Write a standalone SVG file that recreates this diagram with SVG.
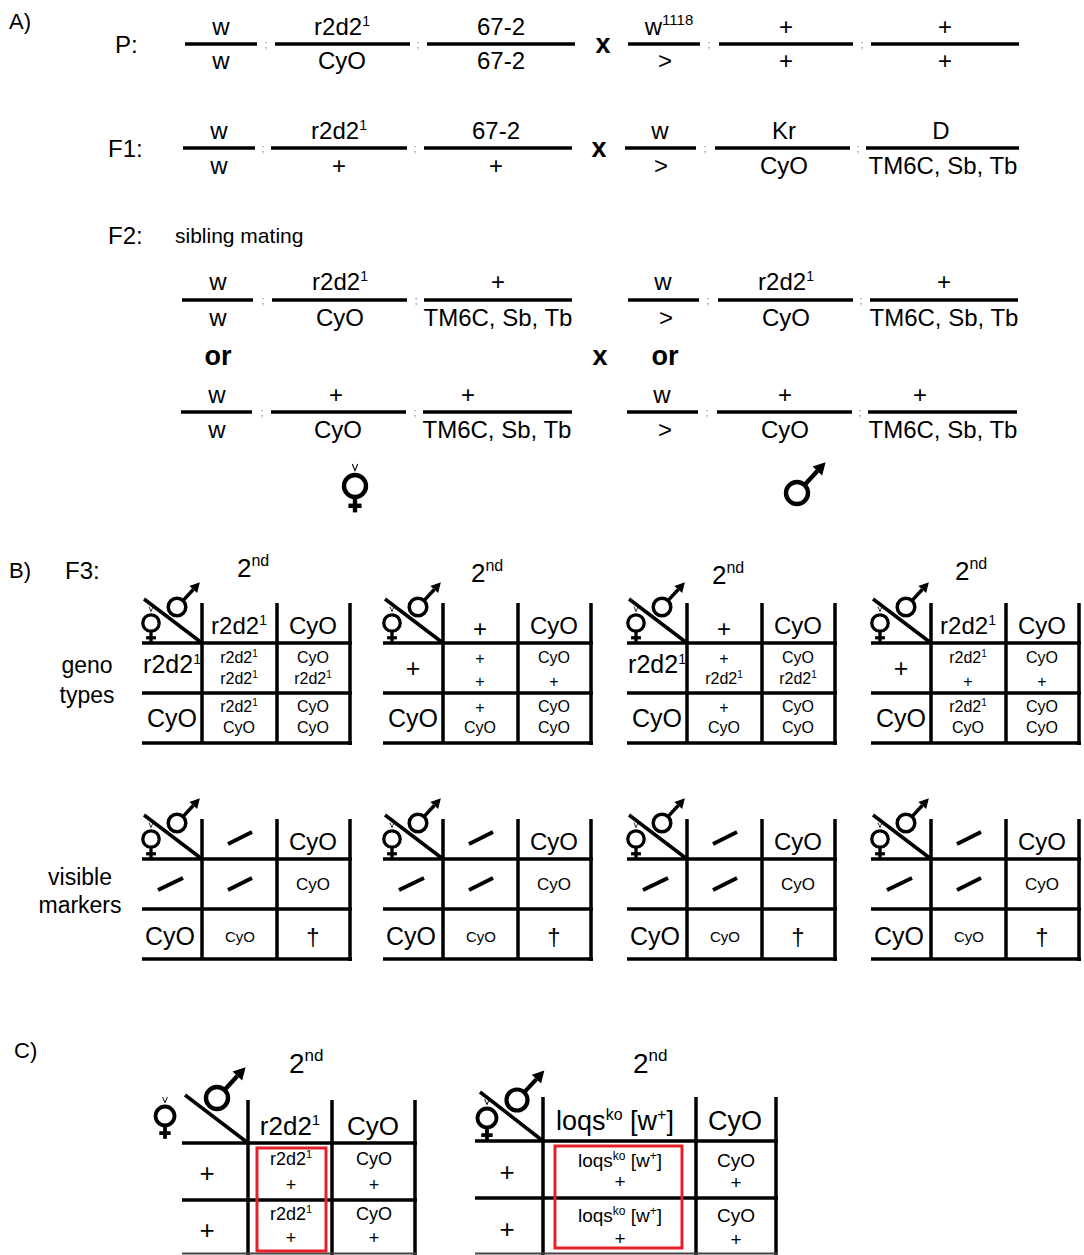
<svg xmlns="http://www.w3.org/2000/svg" width="1084" height="1255" viewBox="0 0 1084 1255">
<style>
text{font-family:"Liberation Sans",Arial,sans-serif;fill:#000}
.g{font-size:24px;text-anchor:middle}
.lbl{font-size:24px}
.sec{font-size:22px}
.sm{font-size:21px}
.b{font-weight:bold;font-size:27px;text-anchor:middle}
.sc{font-size:11px;fill:#888;text-anchor:middle}
.bar{stroke:#000;stroke-width:3.5}
.tl{stroke:#000;stroke-width:3.5}
.hd{font-size:24px;text-anchor:middle}
.rl{font-size:25px;text-anchor:middle}
.ce{font-size:16px;text-anchor:middle}
.side{font-size:23px;text-anchor:middle}
.dash{stroke:#000;stroke-width:4}
.red{fill:none;stroke:#e3202a;stroke-width:3}
</style>
<defs>
<g id="male">
<circle r="10" fill="none" stroke="#000" stroke-width="4"/>
<line x1="6.8" y1="-7.3" x2="18.5" y2="-19.9" stroke="#000" stroke-width="4"/>
<polygon points="26,-28 22.9,-15.8 14.1,-24" fill="#000" stroke="none"/>
</g>
<g id="female">
<circle r="10" fill="none" stroke="#000" stroke-width="4"/>
<line x1="0" y1="11" x2="0" y2="24" stroke="#000" stroke-width="4"/>
<line x1="-6" y1="18" x2="6" y2="18" stroke="#000" stroke-width="4"/>
<path d="M-2.5,-20 L0,-14 L2.5,-20" fill="none" stroke="#000" stroke-width="1"/>
</g>
<g id="tgrid">
<line class="tl" x1="60" y1="0" x2="60" y2="141"/>
<line class="tl" x1="135" y1="0" x2="135" y2="141"/>
<line class="tl" x1="208" y1="0" x2="208" y2="142"/>
<line class="tl" x1="0" y1="40" x2="210" y2="40"/>
<line class="tl" x1="0" y1="90" x2="210" y2="90"/>
<line class="tl" x1="0" y1="140" x2="210" y2="140"/>
<line class="tl" x1="2" y1="-4" x2="60" y2="40"/>
<use href="#male" transform="translate(35,4) scale(.88)"/>
<use href="#female" transform="translate(9,20) scale(.82)"/>
</g>
<g id="vmark">
<use href="#tgrid"/>
<line class="dash" x1="86" y1="25" x2="110" y2="13"/>
<text class="hd" x="171" y="31">CyO</text>
<line class="dash" x1="16" y1="71" x2="41" y2="59"/>
<line class="dash" x1="86" y1="71" x2="110" y2="59"/>
<text x="171" y="71" style="font-size:17px;text-anchor:middle">CyO</text>
<text class="rl" x="28" y="126">CyO</text>
<text x="98" y="123" style="font-size:15px;text-anchor:middle">CyO</text>
<text class="hd" x="171" y="126">†</text>
</g>
</defs>
<rect width="1084" height="1255" fill="#fff"/>

<!-- Section A -->
<g id="sectionA">
<text class="sec" x="9" y="29">A)</text>

<g id="row-P">
<text class="lbl" x="115" y="53">P:</text>
<line class="bar" x1="185" y1="44" x2="257" y2="44"/>
<line class="bar" x1="275" y1="44" x2="410" y2="44"/>
<line class="bar" x1="427" y1="44" x2="575" y2="44"/>
<line class="bar" x1="628" y1="44" x2="700" y2="44"/>
<line class="bar" x1="719" y1="44" x2="853" y2="44"/>
<line class="bar" x1="871" y1="44" x2="1019" y2="44"/>
<text class="sc" x="266" y="48">;</text><text class="sc" x="418" y="48">;</text>
<text class="sc" x="709" y="48">;</text><text class="sc" x="862" y="48">;</text>
<text class="g" x="221" y="35">w</text><text class="g" x="221" y="69">w</text>
<text class="g" x="342" y="35">r2d2<tspan dy="-9" font-size="14">1</tspan></text><text class="g" x="342" y="69">CyO</text>
<text class="g" x="501" y="35">67-2</text><text class="g" x="501" y="69">67-2</text>
<text class="b" x="603" y="53">x</text>
<text class="g" x="669" y="35">w<tspan dy="-10" font-size="15">1118</tspan></text><text class="g" x="665" y="69">&gt;</text>
<text class="g" x="786" y="35">+</text><text class="g" x="786" y="69">+</text>
<text class="g" x="945" y="35">+</text><text class="g" x="945" y="69">+</text>
</g>

<g id="row-F1">
<text class="lbl" x="108" y="157">F1:</text>
<line class="bar" x1="183" y1="148" x2="255" y2="148"/>
<line class="bar" x1="271" y1="148" x2="407" y2="148"/>
<line class="bar" x1="424" y1="148" x2="572" y2="148"/>
<line class="bar" x1="625" y1="148" x2="696" y2="148"/>
<line class="bar" x1="715" y1="148" x2="850" y2="148"/>
<line class="bar" x1="866" y1="148" x2="1019" y2="148"/>
<text class="sc" x="263" y="152">;</text><text class="sc" x="415" y="152">;</text>
<text class="sc" x="705" y="152">;</text><text class="sc" x="858" y="152">;</text>
<text class="g" x="219" y="139">w</text><text class="g" x="219" y="174">w</text>
<text class="g" x="339" y="139">r2d2<tspan dy="-9" font-size="14">1</tspan></text><text class="g" x="339" y="174">+</text>
<text class="g" x="496" y="139">67-2</text><text class="g" x="496" y="174">+</text>
<text class="b" x="599" y="157">x</text>
<text class="g" x="660" y="139">w</text><text class="g" x="661" y="174">&gt;</text>
<text class="g" x="784" y="139">Kr</text><text class="g" x="784" y="174">CyO</text>
<text class="g" x="941" y="139">D</text><text class="g" x="943" y="174">TM6C, Sb, Tb</text>
</g>

<g id="row-F2">
<text class="lbl" x="108" y="244">F2:</text>
<text class="sm" x="175" y="243">sibling mating</text>
<line class="bar" x1="182" y1="300" x2="253" y2="300"/>
<line class="bar" x1="272" y1="300" x2="407" y2="300"/>
<line class="bar" x1="424" y1="300" x2="572" y2="300"/>
<text class="sc" x="263" y="304">;</text><text class="sc" x="416" y="304">;</text>
<text class="g" x="218" y="290">w</text><text class="g" x="218" y="326">w</text>
<text class="g" x="340" y="290">r2d2<tspan dy="-9" font-size="14">1</tspan></text><text class="g" x="340" y="326">CyO</text>
<text class="g" x="498" y="290">+</text><text class="g" x="498" y="326">TM6C, Sb, Tb</text>
<text class="b" x="218" y="365">or</text>
<line class="bar" x1="181" y1="412" x2="252" y2="412"/>
<line class="bar" x1="271" y1="412" x2="406" y2="412"/>
<line class="bar" x1="423" y1="412" x2="572" y2="412"/>
<text class="sc" x="262" y="416">;</text><text class="sc" x="415" y="416">;</text>
<text class="g" x="217" y="403">w</text><text class="g" x="217" y="438">w</text>
<text class="g" x="336" y="403">+</text><text class="g" x="338" y="438">CyO</text>
<text class="g" x="468" y="403">+</text><text class="g" x="497" y="438">TM6C, Sb, Tb</text>
<use href="#female" transform="translate(355,486) scale(1.1)"/>

<text class="b" x="600" y="365">x</text>

<line class="bar" x1="628" y1="300" x2="699" y2="300"/>
<line class="bar" x1="718" y1="300" x2="853" y2="300"/>
<line class="bar" x1="870" y1="300" x2="1018" y2="300"/>
<text class="sc" x="708" y="304">;</text><text class="sc" x="861" y="304">;</text>
<text class="g" x="663" y="290">w</text><text class="g" x="666" y="326">&gt;</text>
<text class="g" x="786" y="290">r2d2<tspan dy="-9" font-size="14">1</tspan></text><text class="g" x="786" y="326">CyO</text>
<text class="g" x="944" y="290">+</text><text class="g" x="944" y="326">TM6C, Sb, Tb</text>
<text class="b" x="665" y="365">or</text>
<line class="bar" x1="627" y1="412" x2="698" y2="412"/>
<line class="bar" x1="717" y1="412" x2="852" y2="412"/>
<line class="bar" x1="868" y1="412" x2="1017" y2="412"/>
<text class="sc" x="707" y="416">;</text><text class="sc" x="860" y="416">;</text>
<text class="g" x="662" y="403">w</text><text class="g" x="665" y="438">&gt;</text>
<text class="g" x="785" y="403">+</text><text class="g" x="785" y="438">CyO</text>
<text class="g" x="920" y="403">+</text><text class="g" x="943" y="438">TM6C, Sb, Tb</text>
<use href="#male" transform="translate(797,493) scale(1.1)"/>
</g>
</g>

<!-- Section B -->
<g id="sectionB">
<text class="sec" x="9" y="578">B)</text>
<text class="lbl" x="65" y="579">F3:</text>
<text class="side" x="87" y="673">geno</text>
<text class="side" x="87" y="703">types</text>
<text class="side" x="80" y="885">visible</text>
<text class="side" x="80" y="913">markers</text>

<g id="geno-1" transform="translate(142,603)">
<text x="95" y="-26" style="font-size:26px">2<tspan dy="-11" font-size="16">nd</tspan></text>
<use href="#tgrid"/>
<text class="hd" x="97" y="31">r2d2<tspan dy="-9" font-size="14">1</tspan></text><text class="hd" x="171" y="31">CyO</text>
<text class="rl" x="30" y="70">r2d2<tspan dy="-9" font-size="14">1</tspan></text><text class="rl" x="30" y="124">CyO</text>
<text class="ce" x="97" y="60">r2d2<tspan dy="-6" font-size="10">1</tspan></text><text class="ce" x="97" y="81">r2d2<tspan dy="-6" font-size="10">1</tspan></text>
<text class="ce" x="171" y="60">CyO</text><text class="ce" x="171" y="81">r2d2<tspan dy="-6" font-size="10">1</tspan></text>
<text class="ce" x="97" y="109">r2d2<tspan dy="-6" font-size="10">1</tspan></text><text class="ce" x="97" y="130">CyO</text>
<text class="ce" x="171" y="109">CyO</text><text class="ce" x="171" y="130">CyO</text>
</g>

<g id="geno-2" transform="translate(383,603)">
<text x="88" y="-21" style="font-size:26px">2<tspan dy="-11" font-size="16">nd</tspan></text>
<use href="#tgrid"/>
<text class="hd" x="97" y="34">+</text><text class="hd" x="171" y="31">CyO</text>
<text class="rl" x="30" y="74">+</text><text class="rl" x="30" y="124">CyO</text>
<text class="ce" x="97" y="61">+</text><text class="ce" x="97" y="84">+</text>
<text class="ce" x="171" y="60">CyO</text><text class="ce" x="171" y="84">+</text>
<text class="ce" x="97" y="110">+</text><text class="ce" x="97" y="130">CyO</text>
<text class="ce" x="171" y="109">CyO</text><text class="ce" x="171" y="130">CyO</text>
</g>

<g id="geno-3" transform="translate(627,603)">
<text x="85" y="-19" style="font-size:26px">2<tspan dy="-11" font-size="16">nd</tspan></text>
<use href="#tgrid"/>
<text class="hd" x="97" y="34">+</text><text class="hd" x="171" y="31">CyO</text>
<text class="rl" x="30" y="70">r2d2<tspan dy="-9" font-size="14">1</tspan></text><text class="rl" x="30" y="124">CyO</text>
<text class="ce" x="97" y="61">+</text><text class="ce" x="97" y="81">r2d2<tspan dy="-6" font-size="10">1</tspan></text>
<text class="ce" x="171" y="60">CyO</text><text class="ce" x="171" y="81">r2d2<tspan dy="-6" font-size="10">1</tspan></text>
<text class="ce" x="97" y="110">+</text><text class="ce" x="97" y="130">CyO</text>
<text class="ce" x="171" y="109">CyO</text><text class="ce" x="171" y="130">CyO</text>
</g>

<g id="geno-4" transform="translate(871,603)">
<text x="84" y="-23" style="font-size:26px">2<tspan dy="-11" font-size="16">nd</tspan></text>
<use href="#tgrid"/>
<text class="hd" x="97" y="31">r2d2<tspan dy="-9" font-size="14">1</tspan></text><text class="hd" x="171" y="31">CyO</text>
<text class="rl" x="30" y="74">+</text><text class="rl" x="30" y="124">CyO</text>
<text class="ce" x="97" y="60">r2d2<tspan dy="-6" font-size="10">1</tspan></text><text class="ce" x="97" y="84">+</text>
<text class="ce" x="171" y="60">CyO</text><text class="ce" x="171" y="84">+</text>
<text class="ce" x="97" y="109">r2d2<tspan dy="-6" font-size="10">1</tspan></text><text class="ce" x="97" y="130">CyO</text>
<text class="ce" x="171" y="109">CyO</text><text class="ce" x="171" y="130">CyO</text>
</g>

<g id="marker-1" transform="translate(142,819)"><use href="#vmark"/></g>
<g id="marker-2" transform="translate(383,819)"><use href="#vmark"/></g>
<g id="marker-3" transform="translate(627,819)"><use href="#vmark"/></g>
<g id="marker-4" transform="translate(871,819)"><use href="#vmark"/></g>
</g>

<!-- Section C -->
<g id="sectionC">
<text class="sec" x="14" y="1058">C)</text>

<g id="cross-r2d2">
<text x="289" y="1073" style="font-size:28px">2<tspan dy="-12" font-size="17">nd</tspan></text>
<line class="tl" x1="248" y1="1100" x2="248" y2="1255"/>
<line class="tl" x1="332" y1="1100" x2="332" y2="1255"/>
<line class="tl" x1="415" y1="1100" x2="415" y2="1255"/>
<line class="tl" x1="182" y1="1143" x2="417" y2="1143"/>
<line class="tl" x1="182" y1="1200" x2="417" y2="1200"/>
<line x1="182" y1="1253.5" x2="417" y2="1253.5" stroke="#444" stroke-width="2"/>
<line class="tl" x1="185" y1="1095" x2="248" y2="1143"/>
<use href="#male" transform="translate(217,1098) scale(1.1)"/>
<use href="#female" transform="translate(165,1116) scale(.95)"/>
<text x="290" y="1135" style="font-size:26px;text-anchor:middle">r2d2<tspan dy="-10" font-size="15">1</tspan></text>
<text x="373" y="1135" style="font-size:26px;text-anchor:middle">CyO</text>
<text x="207" y="1182" style="font-size:26px;text-anchor:middle">+</text>
<text x="207" y="1239" style="font-size:26px;text-anchor:middle">+</text>
<g style="font-size:18px;text-anchor:middle">
<text x="291" y="1165">r2d2<tspan dy="-7" font-size="11">1</tspan></text><text x="291" y="1191">+</text>
<text x="291" y="1220">r2d2<tspan dy="-7" font-size="11">1</tspan></text><text x="291" y="1244">+</text>
<text x="374" y="1165">CyO</text><text x="374" y="1191">+</text>
<text x="374" y="1220">CyO</text><text x="374" y="1244">+</text>
</g>
<rect class="red" x="257" y="1148" width="69" height="103"/>
</g>

<g id="cross-loqs">
<text x="633" y="1073" style="font-size:28px">2<tspan dy="-12" font-size="17">nd</tspan></text>
<line class="tl" x1="543" y1="1097" x2="543" y2="1255"/>
<line class="tl" x1="696" y1="1097" x2="696" y2="1255"/>
<line class="tl" x1="776" y1="1097" x2="776" y2="1255"/>
<line class="tl" x1="475" y1="1141" x2="778" y2="1141"/>
<line class="tl" x1="475" y1="1198" x2="778" y2="1198"/>
<line x1="475" y1="1253.5" x2="778" y2="1253.5" stroke="#444" stroke-width="2"/>
<line class="tl" x1="480" y1="1092" x2="543" y2="1141"/>
<use href="#male" transform="translate(517,1100) scale(1.05)"/>
<use href="#female" transform="translate(487,1118) scale(.95)"/>
<text x="615" y="1130" style="font-size:27px;text-anchor:middle">loqs<tspan dy="-10" font-size="16">ko</tspan><tspan dy="10"> [w</tspan><tspan dy="-10" font-size="16">+</tspan><tspan dy="10">]</tspan></text>
<text x="735" y="1130" style="font-size:27px;text-anchor:middle">CyO</text>
<text x="507" y="1181" style="font-size:26px;text-anchor:middle">+</text>
<text x="507" y="1238" style="font-size:26px;text-anchor:middle">+</text>
<g style="font-size:19px;text-anchor:middle">
<text x="620" y="1167">loqs<tspan dy="-7" font-size="12">ko</tspan><tspan dy="7"> [w</tspan><tspan dy="-7" font-size="12">+</tspan><tspan dy="7">]</tspan></text>
<text x="620" y="1188">+</text>
<text x="620" y="1222">loqs<tspan dy="-7" font-size="12">ko</tspan><tspan dy="7"> [w</tspan><tspan dy="-7" font-size="12">+</tspan><tspan dy="7">]</tspan></text>
<text x="620" y="1245">+</text>
<text x="736" y="1167">CyO</text><text x="736" y="1189">+</text>
<text x="736" y="1222">CyO</text><text x="736" y="1246">+</text>
</g>
<rect class="red" x="555" y="1146" width="127" height="102"/>
</g>
</g>
</svg>
